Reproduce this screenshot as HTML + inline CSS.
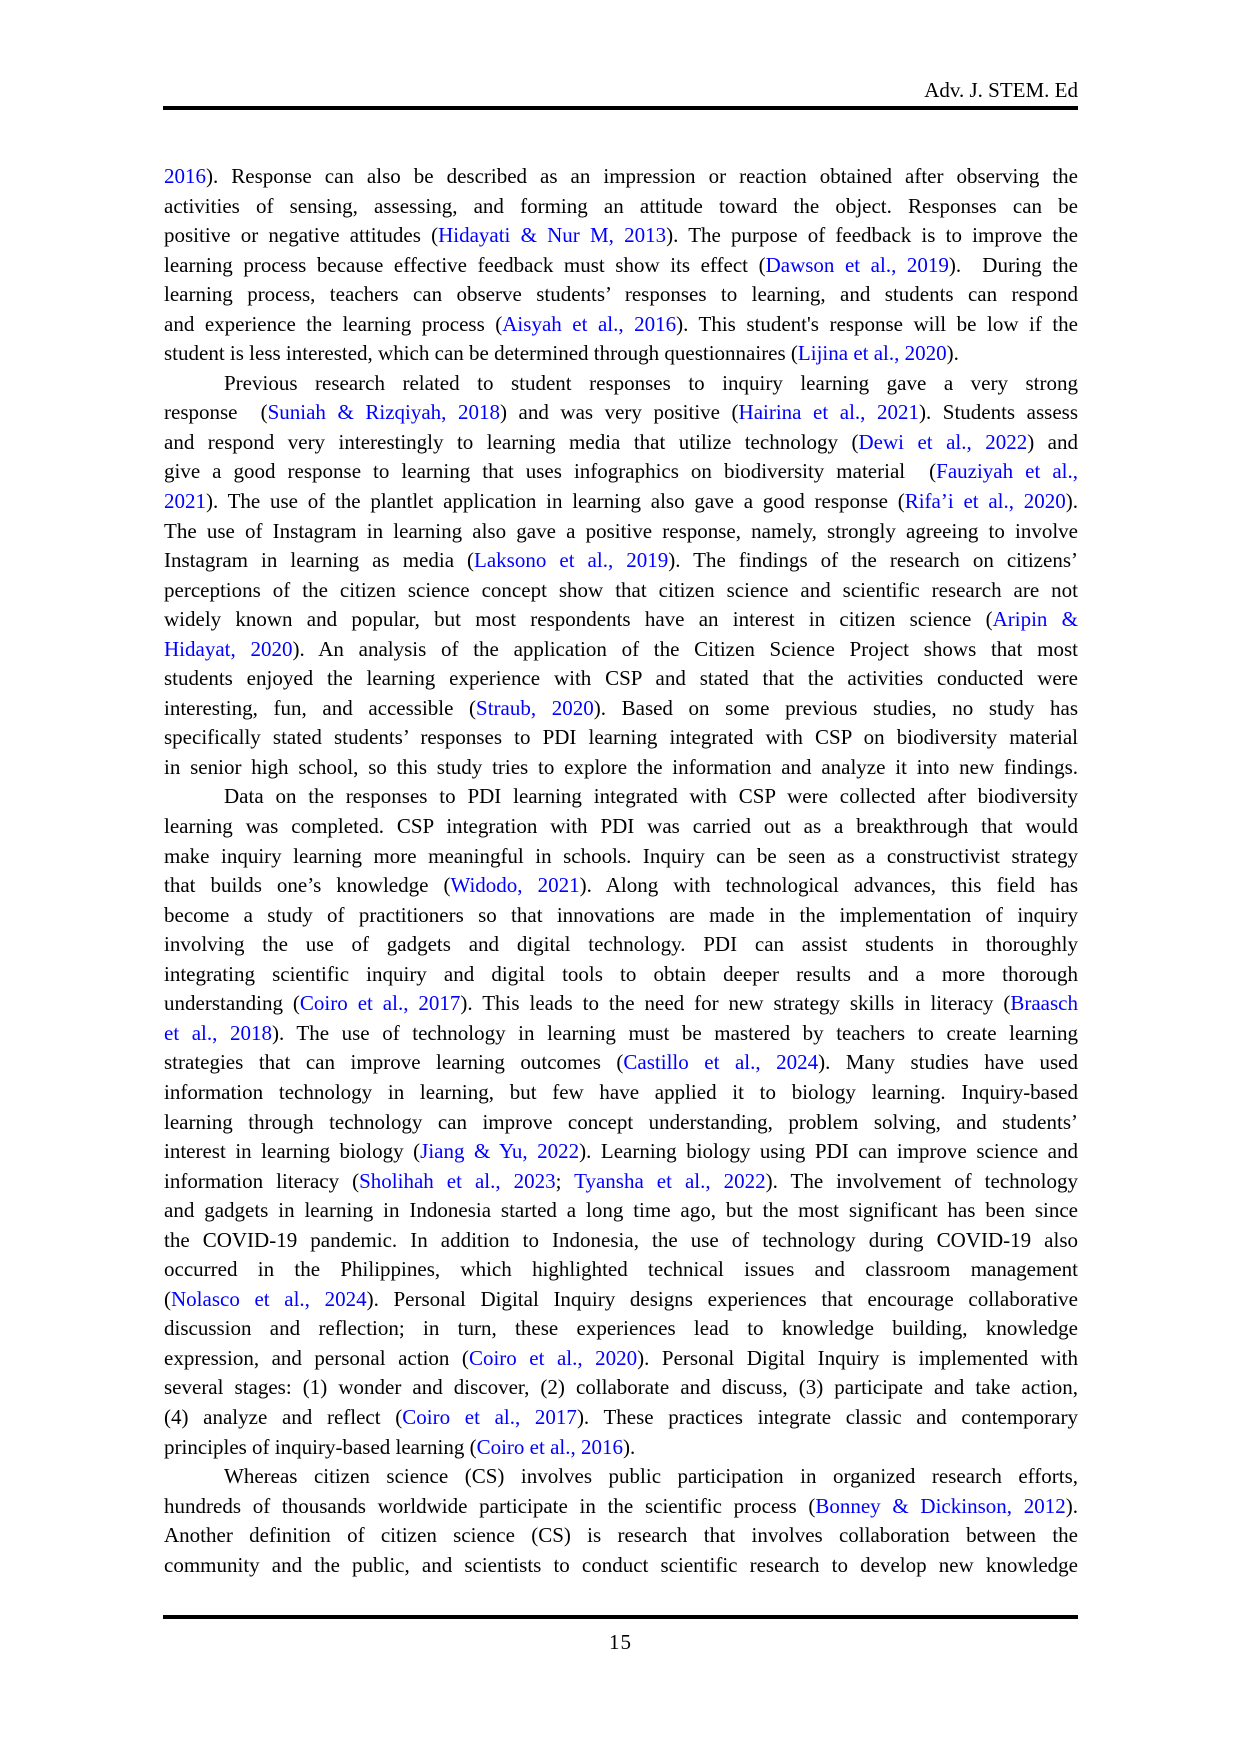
<!DOCTYPE html>
<html><head><meta charset="utf-8"><style>
body{margin:0;background:#fff;}
.page{position:relative;width:1241px;height:1754px;font-family:"Liberation Serif",serif;color:#000;}
.hdr{position:absolute;right:163px;top:78px;font-size:21px;}
.rule{position:absolute;left:163px;width:915px;height:4px;background:#000;}
.txt{position:absolute;left:164px;top:162px;width:914px;font-size:21px;}
.l{height:29.56px;line-height:29.56px;text-align:justify;text-align-last:justify;white-space:nowrap;}
.e{text-align-last:left;}
.i{padding-left:60px;}
a{color:#0000ff;text-decoration:none;}
.pn{position:absolute;left:0;width:1241px;text-align:center;top:1630px;font-size:21px;letter-spacing:1px;}
</style></head><body><div class="page">
<div class="hdr">Adv. J. STEM. Ed</div>
<div class="rule" style="top:106px"></div>
<div class="txt">
<div class="l"><a>2016</a>). Response can also be described as an impression or reaction obtained after observing the</div>
<div class="l">activities of sensing, assessing, and forming an attitude toward the object. Responses can be</div>
<div class="l">positive or negative attitudes (<a>Hidayati &amp; Nur M, 2013</a>). The purpose of feedback is to improve the</div>
<div class="l">learning process because effective feedback must show its effect (<a>Dawson et al., 2019</a>).&nbsp; During the</div>
<div class="l">learning process, teachers can observe students’ responses to learning, and students can respond</div>
<div class="l">and experience the learning process (<a>Aisyah et al., 2016</a>). This student's response will be low if the</div>
<div class="l e">student is less interested, which can be determined through questionnaires (<a>Lijina et al., 2020</a>).</div>
<div class="l i">Previous research related to student responses to inquiry learning gave a very strong</div>
<div class="l">response&nbsp; (<a>Suniah &amp; Rizqiyah, 2018</a>) and was very positive (<a>Hairina et al., 2021</a>). Students assess</div>
<div class="l">and respond very interestingly to learning media that utilize technology (<a>Dewi et al., 2022</a>) and</div>
<div class="l">give a good response to learning that uses infographics on biodiversity material&nbsp; (<a>Fauziyah et al.,</a></div>
<div class="l"><a>2021</a>). The use of the plantlet application in learning also gave a good response (<a>Rifa’i et al., 2020</a>).</div>
<div class="l">The use of Instagram in learning also gave a positive response, namely, strongly agreeing to involve</div>
<div class="l">Instagram in learning as media (<a>Laksono et al., 2019</a>). The findings of the research on citizens’</div>
<div class="l">perceptions of the citizen science concept show that citizen science and scientific research are not</div>
<div class="l">widely known and popular, but most respondents have an interest in citizen science (<a>Aripin &amp;</a></div>
<div class="l"><a>Hidayat, 2020</a>). An analysis of the application of the Citizen Science Project shows that most</div>
<div class="l">students enjoyed the learning experience with CSP and stated that the activities conducted were</div>
<div class="l">interesting, fun, and accessible (<a>Straub, 2020</a>). Based on some previous studies, no study has</div>
<div class="l">specifically stated students’ responses to PDI learning integrated with CSP on biodiversity material</div>
<div class="l">in senior high school, so this study tries to explore the information and analyze it into new findings.</div>
<div class="l i">Data on the responses to PDI learning integrated with CSP were collected after biodiversity</div>
<div class="l">learning was completed. CSP integration with PDI was carried out as a breakthrough that would</div>
<div class="l">make inquiry learning more meaningful in schools. Inquiry can be seen as a constructivist strategy</div>
<div class="l">that builds one’s knowledge (<a>Widodo, 2021</a>). Along with technological advances, this field has</div>
<div class="l">become a study of practitioners so that innovations are made in the implementation of inquiry</div>
<div class="l">involving the use of gadgets and digital technology. PDI can assist students in thoroughly</div>
<div class="l">integrating scientific inquiry and digital tools to obtain deeper results and a more thorough</div>
<div class="l">understanding (<a>Coiro et al., 2017</a>). This leads to the need for new strategy skills in literacy (<a>Braasch</a></div>
<div class="l"><a>et al., 2018</a>). The use of technology in learning must be mastered by teachers to create learning</div>
<div class="l">strategies that can improve learning outcomes (<a>Castillo et al., 2024</a>). Many studies have used</div>
<div class="l">information technology in learning, but few have applied it to biology learning. Inquiry-based</div>
<div class="l">learning through technology can improve concept understanding, problem solving, and students’</div>
<div class="l">interest in learning biology (<a>Jiang &amp; Yu, 2022</a>). Learning biology using PDI can improve science and</div>
<div class="l">information literacy (<a>Sholihah et al., 2023</a>; <a>Tyansha et al., 2022</a>). The involvement of technology</div>
<div class="l">and gadgets in learning in Indonesia started a long time ago, but the most significant has been since</div>
<div class="l">the COVID-19 pandemic. In addition to Indonesia, the use of technology during COVID-19 also</div>
<div class="l">occurred in the Philippines, which highlighted technical issues and classroom management</div>
<div class="l">(<a>Nolasco et al., 2024</a>). Personal Digital Inquiry designs experiences that encourage collaborative</div>
<div class="l">discussion and reflection; in turn, these experiences lead to knowledge building, knowledge</div>
<div class="l">expression, and personal action (<a>Coiro et al., 2020</a>). Personal Digital Inquiry is implemented with</div>
<div class="l">several stages: (1) wonder and discover, (2) collaborate and discuss, (3) participate and take action,</div>
<div class="l">(4) analyze and reflect (<a>Coiro et al., 2017</a>). These practices integrate classic and contemporary</div>
<div class="l e">principles of inquiry-based learning (<a>Coiro et al., 2016</a>).</div>
<div class="l i">Whereas citizen science (CS) involves public participation in organized research efforts,</div>
<div class="l">hundreds of thousands worldwide participate in the scientific process (<a>Bonney &amp; Dickinson, 2012</a>).</div>
<div class="l">Another definition of citizen science (CS) is research that involves collaboration between the</div>
<div class="l">community and the public, and scientists to conduct scientific research to develop new knowledge</div>
</div>
<div class="rule" style="top:1615px"></div>
<div class="pn">15</div>
</div></body></html>
